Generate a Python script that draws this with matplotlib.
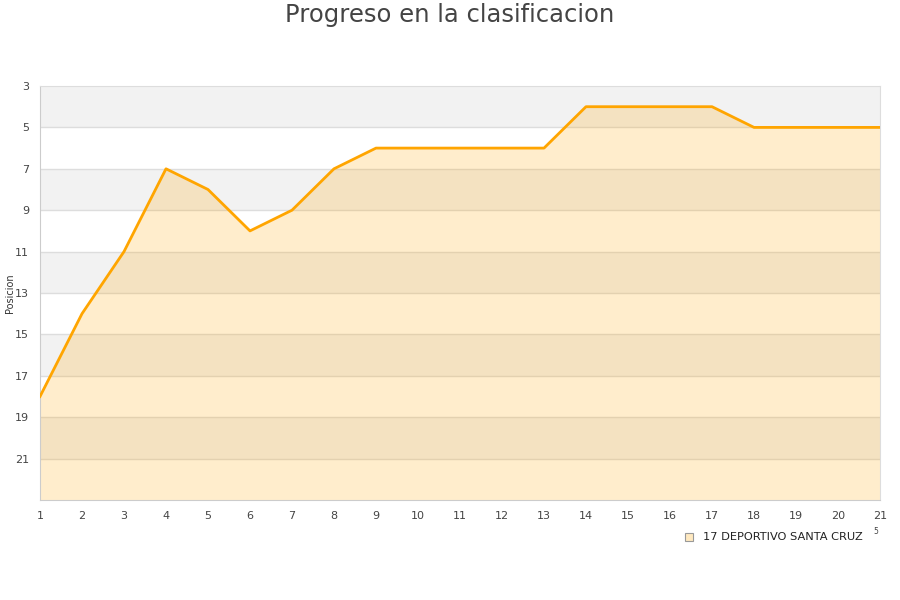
import matplotlib
matplotlib.use("Agg")
import matplotlib.pyplot as plt
from matplotlib.patches import Rectangle

jornadas = list(range(1, 22))
posiciones = [18, 14, 11, 7, 8, 10, 9, 7, 6, 6, 6, 6, 6, 4, 4, 4, 4, 5, 5, 5, 5]
yticks = [3, 5, 7, 9, 11, 13, 15, 17, 19, 21]
equipo = "17 DEPORTIVO SANTA CRUZ"
titulo = "Progreso en la clasificacion"

fig = plt.figure(figsize=(9, 6), dpi=100)
ax = fig.add_axes([40/900, 1-500/600, 840/900, 414/600])
ymin, ymax = 3, 23
ax.set_xlim(1, 21)
ax.set_ylim(ymax, ymin)

# alternating bands
for i, y0 in enumerate(range(ymin, ymax, 2)):
    if i % 2 == 0:
        ax.axhspan(y0, y0 + 2, color="#f2f2f2", zorder=0, lw=0)
for y in yticks[1:]:
    ax.axhline(y, color="#dddddd", lw=1, zorder=1)

ax.fill_between(jornadas, posiciones, ymax, color="#ffa500", alpha=0.2, lw=0, zorder=2)
ax.plot(jornadas, posiciones, color="#ffa500", lw=2, zorder=3)

ax.set_yticks(yticks)
ax.set_xticks(jornadas)
ax.tick_params(axis="both", length=0, labelsize=8, colors="#444444", pad=8)
for s in ["left", "bottom"]:
    ax.spines[s].set_color("#cccccc")
for s in ["top", "right"]:
    ax.spines[s].set_color("#dddddd")

fig.text(10/900, 1-293/600, "Posicion", rotation=90, ha="center", va="center",
         fontsize=7, color="#333333")

fig.text(0.5, 1-15/600, titulo, ha="center", va="center", fontsize=17.5, color="#444444")

# legend
fig.patches.append(Rectangle((685/900, 1-541/600), 8/900, 8/600, transform=fig.transFigure,
                             facecolor="#ffe9c0", edgecolor="#999999", lw=0.8))
fig.text(703/900, 1-537/600, equipo, ha="left", va="center", fontsize=8.2, color="#222222")
fig.text(876/900, 1-532/600, "5", ha="center", va="center", fontsize=5.5, color="#444444")

fig.savefig("out.png", dpi=100)
